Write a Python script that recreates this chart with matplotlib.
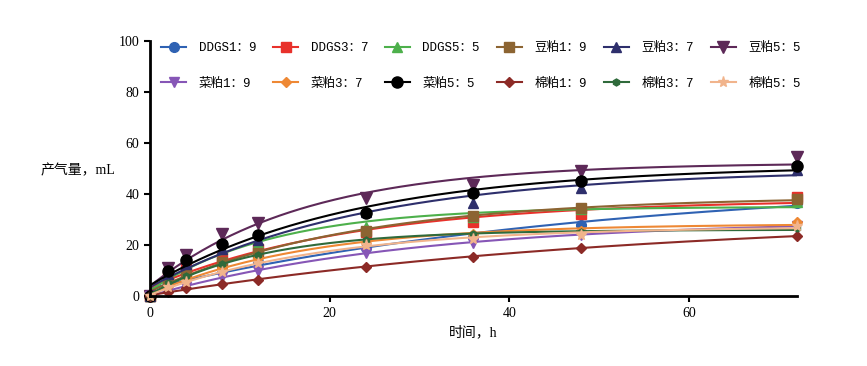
import matplotlib
matplotlib.use("Agg")
import matplotlib.pyplot as plt
import numpy as np

plt.rcParams['font.family'] = ['Liberation Serif', 'Noto Sans CJK SC', 'DejaVu Sans']

# sampling times (h)
hours = [0, 2, 4, 8, 12, 24, 36, 48, 72]

# gas volume (mL)
ddgs_19 = [0, 5.0, 7.5, 10.5, 13.5, 19.0, 23.0, 28.0, 36.5]
ddgs_37 = [0, 7.5, 10.5, 15.5, 18.5, 25.0, 29.0, 32.0, 39.0]
ddgs_55 = [0, 7.5, 11.5, 18.5, 21.0, 27.0, 31.0, 34.0, 37.0]
soy_19 = [0, 6.0, 9.0, 13.5, 17.0, 25.5, 31.5, 34.5, 38.0]
soy_37 = [0, 8.5, 12.5, 18.5, 22.0, 33.0, 36.5, 42.5, 49.5]
soy_55 = [0, 11.0, 16.0, 24.5, 28.5, 38.5, 43.5, 49.0, 54.5]
rape_19 = [0, 2.5, 3.5, 7.5, 10.0, 17.0, 21.0, 24.0, 27.5]
rape_37 = [0, 4.0, 6.5, 11.0, 15.0, 21.0, 24.5, 25.5, 29.0]
rape_55 = [0, 10.0, 14.0, 20.5, 24.0, 32.5, 40.5, 45.0, 51.0]
cotton_19 = [0, 1.5, 3.0, 4.7, 6.5, 11.5, 15.5, 19.0, 23.5]
cotton_37 = [0, 5.0, 8.0, 12.5, 16.0, 22.0, 24.5, 25.0, 26.5]
cotton_55 = [0, 3.5, 5.5, 9.5, 13.0, 20.0, 22.5, 24.0, 27.5]

labels = ["DDGS1：9", "DDGS3：7", "DDGS5：5", "豆粕1：9", "豆粕3：7", "豆粕5：5",
          "菜粕1：9", "菜粕3：7", "菜粕5：5", "棉粕1：9", "棉粕3：7", "棉粕5：5"]
series = [ddgs_19, ddgs_37, ddgs_55, soy_19, soy_37, soy_55,
          rape_19, rape_37, rape_55, cotton_19, cotton_37, cotton_55]
colors = ["#2f62b3", "#e8312b", "#4db04b", "#8c6432", "#2e2f6c", "#5d2958",
          "#8656b6", "#ee8834", "#000000", "#8c2a26", "#2f6a3b", "#f1b48c"]
markers = ["o", "s", "^", "s", "^", "v", "v", "D", "o", "D", "h", "*"]
msizes = [7, 7, 7, 7, 7, 8, 7, 5, 8, 5, 5, 8]


def fit_curve(t, y):
    # one-phase association fit: y = c + a*(1 - exp(-k t)), grid over k
    t = np.asarray(t, float)
    y = np.asarray(y, float)
    best = None
    for k in np.linspace(0.005, 0.3, 600):
        A = np.column_stack([np.ones_like(t), 1 - np.exp(-k * t)])
        coef, res, _, _ = np.linalg.lstsq(A, y, rcond=None)
        err = np.sum((A @ coef - y) ** 2)
        if best is None or err < best[0]:
            best = (err, coef, k)
    _, (c, a), k = best
    tt = np.linspace(0, max(t), 200)
    return tt, c + a * (1 - np.exp(-k * tt))


fig = plt.figure(figsize=(8.67, 3.66), dpi=100)
ax = fig.add_axes([0.173, 0.191, 0.746, 0.697])

handles = []
for y, lab, col, mk, ms in zip(series, labels, colors, markers, msizes):
    tt, yy = fit_curve(hours, y)
    ax.plot(tt, yy, color=col, lw=1.5)
    ax.plot(hours, y, linestyle="none", marker=mk, color=col, ms=ms, clip_on=False)
    h, = ax.plot([], [], color=col, lw=1.5, marker=mk, ms=ms)
    handles.append(h)

ax.set_xlim(0, 72)
ax.set_ylim(0, 100)
ax.set_xticks([0, 20, 40, 60])
ax.set_yticks([0, 20, 40, 60, 80, 100])
for s in ["top", "right"]:
    ax.spines[s].set_visible(False)
for s in ["left", "bottom"]:
    ax.spines[s].set_linewidth(2)
ax.tick_params(width=1.5, length=4, labelsize=10)

ax.set_xlabel("时间，h", fontsize=10)
ax.set_ylabel("产气量，mL", fontsize=10, rotation=0, ha="right", va="center")
ax.yaxis.set_label_coords(-0.054, 0.494)

# legend fills column by column, so interleave the two rows
order = []
for i in range(6):
    order += [i, i + 6]
leg = ax.legend([handles[i] for i in order], [labels[i] for i in order],
                ncol=6, loc="upper left", bbox_to_anchor=(0.0, 1.04),
                frameon=False, fontsize=9, handlelength=2.0,
                columnspacing=1.35, labelspacing=1.9, handletextpad=1.0)
for txt in leg.get_texts():
    txt.set_family(['Liberation Mono', 'Noto Sans CJK SC'])

fig.savefig("out.png", dpi=100)
